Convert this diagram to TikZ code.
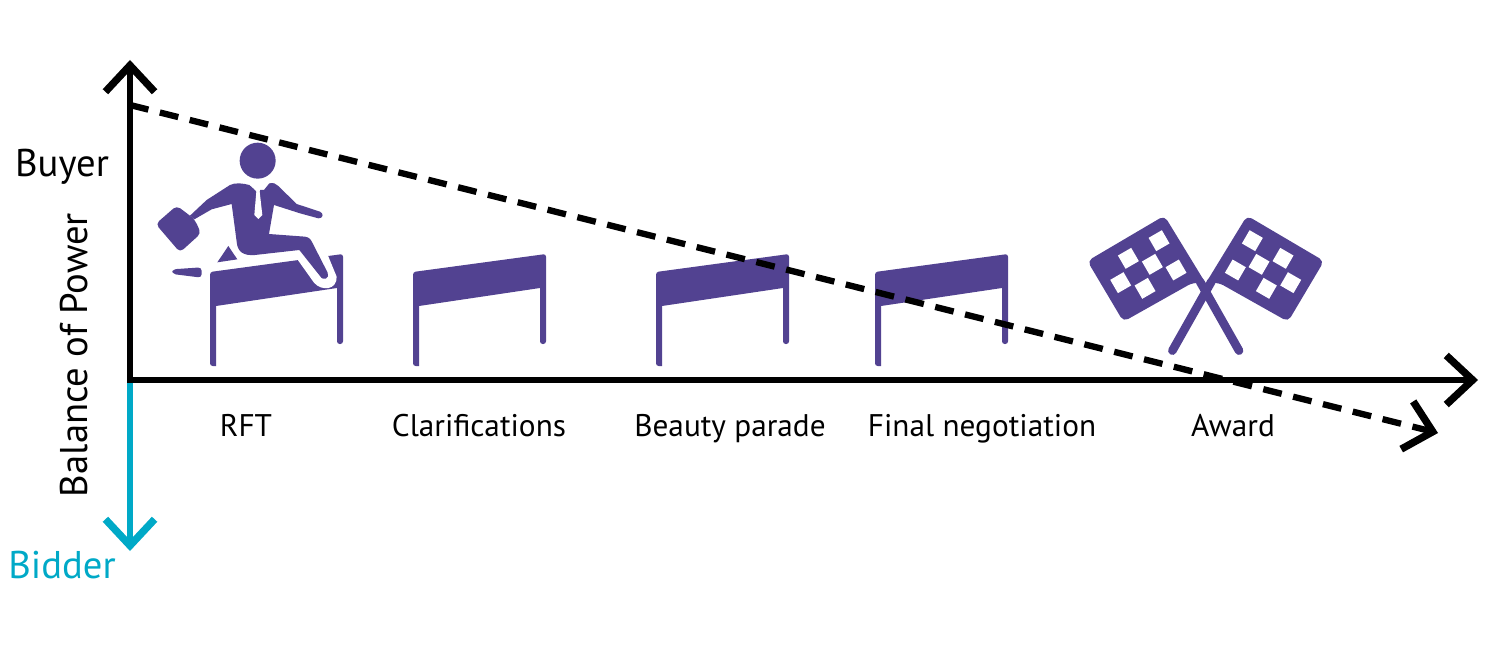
\documentclass[tikz,border=0pt]{standalone}
\usepackage{fontspec}
\setmainfont{PT Sans}
\usetikzlibrary{arrows.meta}
\definecolor{hurdlepurple}{HTML}{524291}
\definecolor{bidderblue}{HTML}{00A9C7}
\tikzset{
  axisline/.style={line width=3.6pt,-{Straight Barb[length=15pt,width=28pt,line width=4.2pt]}},
  label/.style={inner sep=0pt,anchor=base,font=\fontsize{17.8}{20}\selectfont},
  sidelabel/.style={inner sep=0pt,anchor=base,font=\fontsize{22}{24}\selectfont},
  hurdle/.pic={
    \fill[hurdlepurple,rounded corners=1.5pt] (0,0)--(133,-18)--(133,72)--(127,72)[sharp corners]--(127,16)--(6,34)--(6,94)[rounded corners=1.5pt]--(0,94)--cycle;
  },
}
\begin{document}
\begin{tikzpicture}[x=.02cm,y=-.02cm]
\useasboundingbox (0,0) rectangle (1500,662);
\coordinate (origin) at (130,380);
\coordinate (buyertip) at (130,60);
\coordinate (biddertip) at (130,551);
\coordinate (stagetip) at (1478,380);
\coordinate (trendstart) at (130,105);
\coordinate (trendtip) at (1438,433);
% hurdles
\pic at (210,272) {hurdle};
\pic at (413,272) {hurdle};
\pic at (656,272) {hurdle};
\pic at (875,272) {hurdle};
% man, in crop coordinates
\begin{scope}[shift={(140,130)},x=.02cm/3,y=-.02cm/3]
\fill[white] (470,385)--(522,458) .. controls (545,485) and (592,480) .. (590,440)--(562,372)--cycle;
\fill[hurdlepurple] (353,92) circle (54);
\fill[hurdlepurple] (328,165)--(345,180)--(372,180)--(388,160) .. controls (400,158) and (408,160) .. (415,168)--(470,222)--(540,245) .. controls (552,250) and (550,266) .. (535,265)--(480,250)--(402,225)--(387,312)--(495,320) .. controls (508,322) and (512,328) .. (517,338)--(563,428) .. controls (570,445) and (550,455) .. (540,438)--(478,360)--(345,375) .. controls (310,378) and (292,365) .. (290,335)--(275,222)--(215,238)--(163,268)--(150,257)--(200,210)--(270,165) .. controls (285,157) and (310,160) .. (328,165)--cycle;
\fill[white] (340,172)--(362,172)--(359,185)--(367,255)--(355,267)--(343,255)--(349,185)--cycle;
\fill[hurdlepurple,rounded corners=2.5pt] (47,282)--(110,227)--(150,257)--(165,270)--(183,310)--(120,367)--cycle;
\fill[hurdlepurple] (265,348)--(292,388)--(232,397)--cycle;
\fill[hurdlepurple,rounded corners=2pt] (97,418)--(185,412)--(185,443)--(97,432)--cycle;
\end{scope}
% flags
\foreach \m in {1,-1}{
\begin{scope}[shift={(1205.7,200)},x=\m*.02cm/3,y=-.02cm/3]
\fill[hurdlepurple,rounded corners=3pt] (-124,47)--(-355,183)--(-247,365)--(-39,248)--(0,250)--cycle;
\draw[hurdlepurple,line width=4.9pt,line cap=round] (-17,245)--(100,452);
\foreach \cx/\cy in {-140/122,-232/175,-160/193,-89/210,-255/248,-182/265}
  \fill[white,shift={(\cx,\cy)},rotate=\m*30] (-23,23) rectangle (23,-23);
\end{scope}
}
% axes
\draw[axisline,bidderblue] (origin)--(biddertip);
\draw[axisline] (origin)--(buyertip);
\draw[axisline] ([xshift=-.06cm]origin)--(stagetip);
\draw[axisline,dash pattern=on 10.8pt off 6.7pt] (trendstart)--(trendtip);
% labels
\node[sidelabel] (buyer) at (62,177) {Buyer};
\node[sidelabel,text=bidderblue] (bidder) at (62,578) {Bidder};
\node[sidelabel,rotate=90] (power) at (87,355) {Balance of Power};
\node[label] (rft) at (246,436) {RFT};
\node[label] (clarifications) at (479,436) {Clarifications};
\node[label] (parade) at (730,436) {Beauty parade};
\node[label] (negotiation) at (982,436) {Final negotiation};
\node[label] (award) at (1233,436) {Award};
\end{tikzpicture}
\end{document}
